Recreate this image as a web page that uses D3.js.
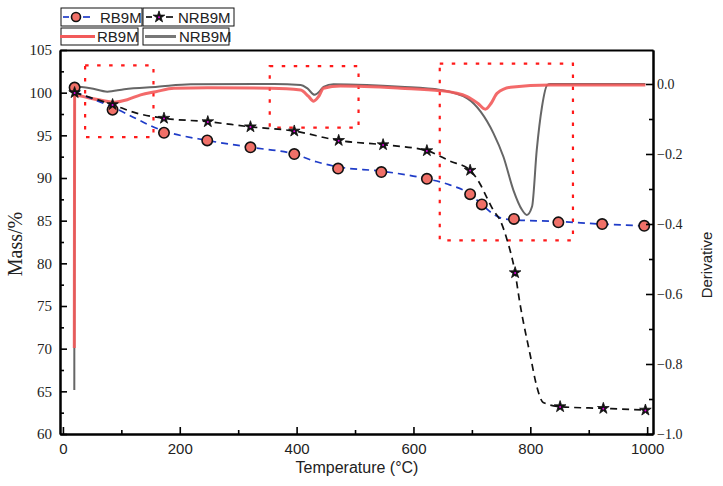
<!DOCTYPE html>
<html>
<head>
<meta charset="utf-8">
<script src="https://cdn.jsdelivr.net/npm/d3@7"></script>
<style>
body{margin:0;background:#fff;}
svg{display:block;}
</style>
</head>
<body>
<div class="chart"></div>
<script>
const WIDTH = 723;
const HEIGHT = 486;
const LEFT = 60, RIGHT = 653, TOP = 50, BOTTOM = 434;

// mass curves (dashed lines)
var rbLineT  = [20, 85, 173, 247, 321, 396, 434, 471, 545, 623, 662, 697, 717, 734, 750, 772, 848, 923, 995];
var rbLineM  = [100.1, 98.3, 95.5, 94.4, 93.6, 92.8, 91.9, 91.3, 90.8, 89.9, 89.2, 88.1, 86.9, 85.9, 85.3, 85.1, 84.9, 84.6, 84.4];
var nrbLineT = [20, 85, 126, 173, 248, 321, 396, 472, 548, 623, 662, 697, 714, 725, 737, 748, 760, 774, 782, 800, 811, 822, 851, 925, 997];
var nrbLineM = [100.0, 98.6, 97.6, 97.0, 96.6, 96.0, 95.5, 94.4, 93.9, 93.2, 92.0, 90.9, 89.3, 87.8, 86.2, 85.1, 82.8, 78.9, 75.4, 69.2, 65.6, 63.7, 63.2, 63.0, 62.8];

// markers
var rbMarkT  = [20, 85, 173, 247, 321, 396, 471, 545, 623, 697, 717, 772, 848, 923, 995];
var rbMarkM  = [100.6, 98.0, 95.3, 94.4, 93.6, 92.8, 91.1, 90.7, 89.9, 88.1, 86.9, 85.2, 84.8, 84.6, 84.4];
var nrbMarkT = [20, 85, 173, 248, 321, 396, 472, 548, 623, 697, 774, 851, 925, 997];
var nrbMarkM = [100.0, 98.6, 97.0, 96.6, 96.0, 95.5, 94.4, 93.9, 93.2, 90.9, 78.9, 63.2, 63.0, 62.8];

// derivative curves (right axis)
var rbDtgT  = [19.5, 20, 25, 47, 70, 87, 110, 133, 159, 190, 248, 356, 407, 420, 429, 438, 446, 475, 578, 646, 692, 710, 723, 733, 743, 766, 834, 997];
var rbDtgD  = [-0.754, -0.035, -0.033, -0.041, -0.048, -0.052, -0.045, -0.031, -0.022, -0.012, -0.011, -0.012, -0.017, -0.035, -0.049, -0.035, -0.012, -0.006, -0.012, -0.019, -0.036, -0.055, -0.072, -0.055, -0.027, -0.009, -0.003, -0.003];
var nrbDtgT = [19.5, 20, 47, 76, 105, 162, 219, 361, 407, 418, 431, 440, 446, 463, 520, 578, 646, 692, 715, 737, 754, 771, 786, 794, 803, 811, 820, 829, 834, 997];
var nrbDtgD = [-0.874, -0.008, -0.012, -0.022, -0.015, -0.008, -0.001, 0.0, -0.003, -0.012, -0.031, -0.02, -0.008, -0.001, -0.003, -0.008, -0.017, -0.041, -0.079, -0.141, -0.208, -0.303, -0.36, -0.374, -0.35, -0.189, -0.065, -0.003, 0.0, 0.0];

// dotted highlight boxes: [t0, t1, massTop, massBottom]
var boxes = [[38, 155, 103.2, 94.8], [354, 506, 103.1, 95.9], [645, 873, 103.4, 82.7]];

// ticks
var xMajor = [0, 200, 400, 600, 800, 1000];
var xMinor = [100, 300, 500, 700, 900];
var yMajor = [60, 65, 70, 75, 80, 85, 90, 95, 100, 105];
var yMinor = [62.5, 67.5, 72.5, 77.5, 82.5, 87.5, 92.5, 97.5, 102.5];
var dMajor = [0, -0.2, -0.4, -0.6, -0.8, -1.0];
var dMinor = [-0.1, -0.3, -0.5, -0.7, -0.9];

var names = ["RB9M", "NRB9M"];

var translate = function(x, y){
	return "translate(" + x + "," + y + ")";
};

var zip = function(a, b){
	return a.map(function(v, i){ return [v, b[i]]; });
};

var svg = d3.select(".chart").append("svg")
	.attr("width", WIDTH)
	.attr("height", HEIGHT);

var x = d3.scaleLinear().domain([-5, 1010]).range([LEFT, RIGHT]);
var yL = d3.scaleLinear().domain([60, 105]).range([BOTTOM, TOP]);
var yR = d3.scaleLinear().domain([-1.0, 0.0971]).range([BOTTOM, TOP]);

// highlight boxes
svg.append("g").selectAll("rect")
	.data(boxes)
	.enter().append("rect")
	.attr("x", function(d){ return x(d[0]); })
	.attr("y", function(d){ return yL(d[2]); })
	.attr("width", function(d){ return x(d[1]) - x(d[0]); })
	.attr("height", function(d){ return yL(d[3]) - yL(d[2]); })
	.attr("fill", "none")
	.attr("stroke", "#ff1a1a")
	.attr("stroke-width", 2.2)
	.attr("stroke-dasharray", "3.5,8.5");

// derivative curves
var dLine = d3.line()
	.x(function(d){ return x(d[0]); })
	.y(function(d){ return yR(d[1]); })
	.curve(d3.curveMonotoneX);

svg.append("path")
	.attr("d", dLine(zip(nrbDtgT, nrbDtgD)))
	.attr("fill", "none")
	.attr("stroke", "#666")
	.attr("stroke-width", 2);

svg.append("path")
	.attr("d", dLine(zip(rbDtgT, rbDtgD)))
	.attr("fill", "none")
	.attr("stroke", "#f25a5a")
	.attr("stroke-opacity", 0.9)
	.attr("stroke-width", 3);

// mass curves
var mLine = d3.line()
	.x(function(d){ return x(d[0]); })
	.y(function(d){ return yL(d[1]); })
	.curve(d3.curveMonotoneX);

svg.append("path")
	.attr("d", mLine(zip(rbLineT, rbLineM)))
	.attr("fill", "none")
	.attr("stroke", "#1f3cc8")
	.attr("stroke-width", 1.7)
	.attr("stroke-dasharray", "7,5");

svg.append("path")
	.attr("d", mLine(zip(nrbLineT, nrbLineM)))
	.attr("fill", "none")
	.attr("stroke", "#111")
	.attr("stroke-width", 1.7)
	.attr("stroke-dasharray", "7,5");

// markers
var star = d3.symbol().type(d3.symbolStar).size(42);

var drawStar = function(g, cx, cy){
	g.append("path")
		.attr("d", star())
		.attr("transform", translate(cx, cy))
		.attr("fill", "#111")
		.attr("stroke", "#111")
		.attr("stroke-width", 0.8);
	g.append("circle")
		.attr("cx", cx).attr("cy", cy + 0.3).attr("r", 1)
		.attr("fill", "#e000e0");
};

var drawDot = function(g, cx, cy, r){
	g.append("circle")
		.attr("cx", cx).attr("cy", cy).attr("r", r)
		.attr("fill", "#f07068")
		.attr("stroke", "#111")
		.attr("stroke-width", 1.6);
};

var marks = svg.append("g");
rbMarkT.forEach(function(t, i){ drawDot(marks, x(t), yL(rbMarkM[i]), 5.2); });
nrbMarkT.forEach(function(t, i){ drawStar(marks, x(t), yL(nrbMarkM[i])); });

// axes
var axisStyle = function(g){
	g.selectAll(".domain").attr("stroke", "#000").attr("stroke-width", 2);
	g.selectAll(".tick line").attr("stroke", "#000").attr("stroke-width", 1.6);
};

svg.append("g")
	.attr("transform", translate(0, BOTTOM))
	.call(d3.axisBottom(x).tickValues(xMinor).tickFormat("").tickSize(-4).tickSizeOuter(0))
	.call(axisStyle);

svg.append("g")
	.attr("transform", translate(0, BOTTOM))
	.call(d3.axisBottom(x).tickValues(xMajor).tickFormat(d3.format("d")).tickSize(-7).tickSizeOuter(0).tickPadding(9))
	.call(axisStyle)
	.selectAll("text")
	.attr("font-family", "'Liberation Sans Narrow', 'Arial Narrow', sans-serif")
	.attr("font-size", 15)
	.attr("fill", "#222");

svg.append("g")
	.attr("transform", translate(0, TOP))
	.call(d3.axisTop(x).tickValues([]).tickSizeOuter(0))
	.call(axisStyle);

svg.append("g")
	.attr("transform", translate(LEFT, 0))
	.call(d3.axisLeft(yL).tickValues(yMinor).tickFormat("").tickSize(-4).tickSizeOuter(0))
	.call(axisStyle);

svg.append("g")
	.attr("transform", translate(LEFT, 0))
	.call(d3.axisLeft(yL).tickValues(yMajor).tickSize(-7).tickSizeOuter(0).tickPadding(8))
	.call(axisStyle)
	.selectAll("text")
	.attr("font-family", "'Liberation Serif', 'Times New Roman', serif")
	.attr("font-size", 15)
	.attr("fill", "#222");

svg.append("g")
	.attr("transform", translate(RIGHT, 0))
	.call(d3.axisRight(yR).tickValues(dMinor).tickFormat("").tickSize(-4).tickSizeOuter(0))
	.call(axisStyle);

svg.append("g")
	.attr("transform", translate(RIGHT, 0))
	.call(d3.axisRight(yR).tickValues(dMajor).tickFormat(d3.format(".1f")).tickSize(-7).tickSizeOuter(0).tickPadding(4))
	.call(axisStyle)
	.selectAll("text")
	.attr("font-family", "'Liberation Serif', 'Times New Roman', serif")
	.attr("font-size", 14)
	.attr("fill", "#222");

// axis titles
svg.append("text")
	.attr("x", 357).attr("y", 473)
	.attr("text-anchor", "middle")
	.attr("font-family", "'Liberation Sans', Arial, sans-serif")
	.attr("font-size", 16)
	.attr("fill", "#222")
	.text("Temperature (°C)");

svg.append("text")
	.attr("transform", translate(22, 244) + " rotate(-90)")
	.attr("text-anchor", "middle")
	.attr("font-family", "'Liberation Serif', 'Times New Roman', serif")
	.attr("font-size", 20)
	.attr("fill", "#222")
	.text("Mass/%");

svg.append("text")
	.attr("transform", translate(712, 265) + " rotate(-90)")
	.attr("text-anchor", "middle")
	.attr("font-family", "'Liberation Sans', Arial, sans-serif")
	.attr("font-size", 15)
	.attr("fill", "#222")
	.text("Derivative");

// legend
var legend = svg.append("g")
	.attr("font-family", "'Liberation Sans', Arial, sans-serif")
	.attr("font-size", 15)
	.attr("fill", "#222");

var legendBox = function(bx, by, bw, bh){
	legend.append("rect")
		.attr("x", bx).attr("y", by).attr("width", bw).attr("height", bh)
		.attr("fill", "#fff").attr("stroke", "#111").attr("stroke-width", 1);
};
var legendText = function(tx, ty, s){
	legend.append("text")
		.attr("x", tx).attr("y", ty)
		.attr("dominant-baseline", "central")
		.text(s);
};
var seg = function(x1, x2, yy, color, w){
	legend.append("line")
		.attr("x1", x1).attr("x2", x2).attr("y1", yy).attr("y2", yy)
		.attr("stroke", color).attr("stroke-width", w);
};

legendBox(61, 8, 81, 18);
seg(63, 69, 17, "#1f3cc8", 1.7);
seg(83, 90, 17, "#1f3cc8", 1.7);
drawDot(legend, 76, 17, 4.5);
legendText(100, 17, names[0]);

legendBox(143, 8, 91, 18);
seg(146, 152, 17, "#111", 1.7);
seg(166, 173, 17, "#111", 1.7);
drawStar(legend, 159, 17);
legendText(178, 17, names[1]);

legendBox(61, 28, 77, 17);
seg(60, 95, 36.5, "#f25a5a", 3);
legendText(97, 36.5, names[0]);

legendBox(143, 28, 86, 17);
seg(145, 176, 36.5, "#777", 3);
legendText(179, 36.5, names[1]);
</script>
</body>
</html>
